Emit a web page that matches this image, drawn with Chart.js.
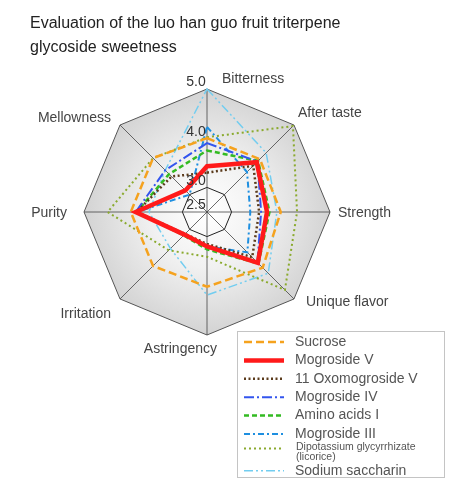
<!DOCTYPE html>
<html>
<head>
<meta charset="utf-8">
<script src="https://cdn.jsdelivr.net/npm/chart.js@4.4.1/dist/chart.umd.min.js"></script>
<style>
  html, body { margin: 0; padding: 0; background: #fff; }
  #wrap { position: relative; width: 450px; height: 487px; font-family: "Liberation Sans", Arial, sans-serif; }
  #title { position: absolute; left: 30px; top: 11px; font-size: 16px; line-height: 24px; color: #222; }
  #chart { position: absolute; left: 0; top: 0; }
</style>
</head>
<body>
<div id="wrap">
  <canvas id="chart" width="450" height="487"></canvas>
  <div id="title">Evaluation of the luo han guo fruit triterpene<br>glycoside sweetness</div>
</div>
<script>
// axes and scale
const categories = ['Bitterness', 'After taste', 'Strength', 'Unique flavor', 'Astringency', 'Irritation', 'Purity', 'Mellowness'];
const tickValues = [2.5, 3.0, 4.0, 5.0];

// series values (same order as categories)
const sucrose       = [4.00, 4.02, 4.00, 4.10, 4.02, 4.05, 4.05, 4.05];
const mogrosideV    = [3.43, 3.93, 3.72, 3.96, 3.20, 3.15, 3.95, 3.12];
const oxoMogroside  = [3.30, 3.83, 3.56, 3.80, 3.15, 3.13, 3.93, 3.52];
const mogrosideIV   = [3.90, 3.95, 3.60, 3.95, 3.20, 3.15, 3.95, 3.70];
const aminoAcidsI   = [3.75, 3.97, 3.77, 3.98, 3.26, 3.17, 3.93, 3.59];
const mogrosideIII  = [4.23, 3.65, 3.38, 3.66, 3.20, 3.15, 3.92, 3.00];
const licorice      = [4.02, 4.97, 4.33, 4.74, 3.41, 3.60, 4.52, 4.05];
const saccharin     = [5.00, 4.20, 3.92, 4.26, 4.19, 3.55, 3.68, 3.70];

const seriesNames = ['Sucrose', 'Mogroside V', '11 Oxomogroside V', 'Mogroside IV', 'Amino acids I',
                     'Mogroside III', 'Dipotassium glycyrrhizate|(licorice)', 'Sodium saccharin'];
const seriesData = [sucrose, mogrosideV, oxoMogroside, mogrosideIV, aminoAcidsI, mogrosideIII, licorice, saccharin];

// line styles
const styles = [
  { color: '#f5a21e', width: 2.5, dash: [8, 4] },
  { color: '#ff1a1a', width: 4.5, dash: [] },
  { color: '#5b3b1c', width: 2.5, dash: [2, 2.5] },
  { color: '#3355ee', width: 2,   dash: [10, 3, 2, 3] },
  { color: '#33bb22', width: 2.5, dash: [5, 3] },
  { color: '#1e8fe0', width: 2,   dash: [6, 3, 2, 3] },
  { color: '#8aaa2e', width: 2,   dash: [2, 3] },
  { color: '#72cdf0', width: 1.5, dash: [9, 3, 2, 3, 2, 3] }
];

const FONT = '"Liberation Sans", Arial, sans-serif';

// label nudges relative to the outer vertex of each axis
const labelNudge = [
  { dx: 15, dy: -10, align: 'left' },
  { dx: 4,  dy: -12, align: 'left' },
  { dx: 8,  dy: 1,   align: 'left' },
  { dx: 12, dy: 3,   align: 'left' },
  { dx: 10, dy: 14,  align: 'right' },
  { dx: -9, dy: 15,  align: 'right' },
  { dx: -17, dy: 1,  align: 'right' },
  { dx: -9, dy: -7,  align: 'right' }
];

const radarDecor = {
  id: 'radarDecor',
  beforeDraw(chart) {
    const r = chart.scales.r;
    const ctx = chart.ctx;
    const outer = r.getDistanceFromCenterForValue(r.max);
    const g = ctx.createRadialGradient(r.xCenter, r.yCenter, 0, r.xCenter, r.yCenter, outer);
    g.addColorStop(0, '#ffffff');
    g.addColorStop(0.45, '#f1f1f1');
    g.addColorStop(1, '#d3d3d3');
    ctx.save();
    ctx.beginPath();
    categories.forEach((c, i) => {
      const p = r.getPointPosition(i, outer);
      if (i === 0) ctx.moveTo(p.x, p.y); else ctx.lineTo(p.x, p.y);
    });
    ctx.closePath();
    ctx.fillStyle = g;
    ctx.fill();
    ctx.restore();
  },
  afterDatasetsDraw(chart) {
    const r = chart.scales.r;
    const ctx = chart.ctx;
    const outer = r.getDistanceFromCenterForValue(r.max);
    ctx.save();
    ctx.font = '14px ' + FONT;
    ctx.textBaseline = 'middle';
    // tick labels
    ctx.fillStyle = '#333';
    ctx.textAlign = 'center';
    tickValues.forEach(v => {
      const p = r.getPointPositionForValue(0, v);
      ctx.fillText(v.toFixed(1), p.x - 11, p.y - 6.5);
    });
    // axis names
    ctx.fillStyle = '#444';
    categories.forEach((c, i) => {
      const p = r.getPointPosition(i, outer);
      const n = labelNudge[i];
      ctx.textAlign = n.align;
      ctx.fillText(c, p.x + n.dx, p.y + n.dy);
    });
    ctx.restore();
  },
  afterDraw(chart) {
    // legend box
    const ctx = chart.ctx;
    const bx = 237, by = 331, bw = 207, bh = 146;
    ctx.save();
    ctx.fillStyle = '#fff';
    ctx.fillRect(bx, by, bw, bh);
    ctx.strokeStyle = '#c4c4c4';
    ctx.lineWidth = 1;
    ctx.strokeRect(bx + 0.5, by + 0.5, bw, bh);
    ctx.textBaseline = 'middle';
    ctx.textAlign = 'left';
    seriesNames.forEach((name, i) => {
      const st = styles[i];
      const y = by + 11 + i * 18.4;
      const parts = name.split('|');
      const ly = parts.length > 1 ? y - 4 : y;
      ctx.strokeStyle = st.color;
      ctx.lineWidth = st.width;
      ctx.setLineDash(st.dash);
      ctx.beginPath();
      ctx.moveTo(244, ly);
      ctx.lineTo(284, ly);
      ctx.stroke();
      ctx.setLineDash([]);
      ctx.fillStyle = '#555';
      if (parts.length > 1) {
        ctx.font = '10.5px ' + FONT;
        ctx.fillText(parts[0], 296, y - 5);
        ctx.fillText(parts[1], 296, y + 5);
      } else {
        ctx.font = '14px ' + FONT;
        ctx.fillText(name, 295, y);
      }
    });
    ctx.restore();
  }
};

const datasets = seriesNames.map((name, i) => ({
  label: name.replace('|', ' '),
  data: seriesData[i],
  borderColor: styles[i].color,
  borderWidth: styles[i].width,
  borderDash: styles[i].dash,
  backgroundColor: 'transparent',
  fill: false,
  pointRadius: 0,
  pointHoverRadius: 0,
  tension: 0,
  order: i === 1 ? 0 : 1 + i
}));

new Chart(document.getElementById('chart'), {
  type: 'radar',
  data: { labels: categories, datasets: datasets },
  options: {
    responsive: false,
    animation: false,
    devicePixelRatio: 1,
    layout: { padding: { left: 84, top: 89, right: 120, bottom: 152 } },
    plugins: { legend: { display: false }, title: { display: false }, tooltip: { enabled: false } },
    scales: {
      r: {
        min: 2.5,
        max: 5.0,
        afterBuildTicks: s => { s.ticks = tickValues.map(v => ({ value: v })); },
        ticks: { display: false },
        grid: {
          color: c => (c.tick && c.tick.value === 4) ? 'rgba(0,0,0,0)' : (c.tick && c.tick.value === 5 ? '#555' : '#222'),
          lineWidth: 1
        },
        angleLines: { color: '#444', lineWidth: 0.8 },
        pointLabels: { display: false }
      }
    }
  },
  plugins: [radarDecor]
});
</script>
</body>
</html>
